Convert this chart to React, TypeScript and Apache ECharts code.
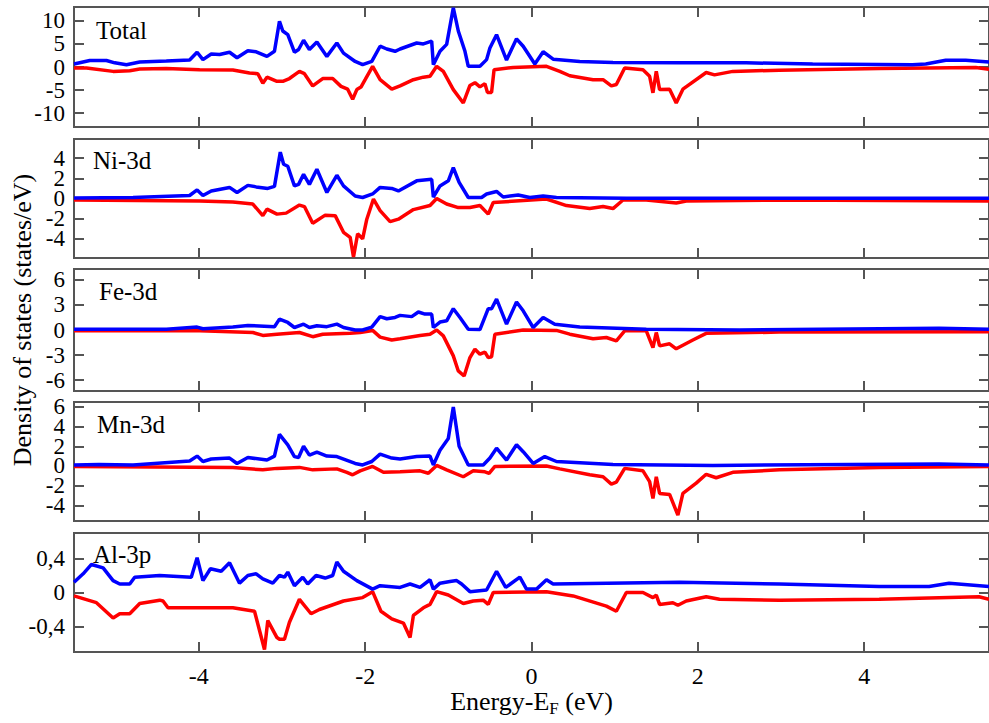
import React, { useEffect, useRef } from "react";
import * as echarts from "echarts";

// ---------- data ----------
const energyMin = -5.5;
const energyMax = 5.5;
const energyTicks = [-4, -2, 0, 2, 4];

const panelNames = ["Total", "Ni-3d", "Fe-3d", "Mn-3d", "Al-3p"];
const yRanges: [number, number][] = [[-13, 13], [-5.9, 5.9], [-7.3, 7.3], [-5.6, 6.5], [-0.7, 0.7]];
const yTicks: number[][] = [[-10, -5, 0, 5, 10], [-4, -2, 0, 2, 4], [-6, -3, 0, 3, 6], [-4, -2, 0, 2, 4, 6], [-0.4, 0, 0.4]];

const totalUp: [number, number][] = [
  [-5.5, 0.65], [-5.31, 1.4], [-5.11, 1.4], [-5.01, 0.9], [-4.87, 0.5], [-4.71, 1.1], [-4.39, 1.3], [-4.11, 1.5],
  [-4.02, 3.2], [-3.95, 1.6], [-3.85, 2.8], [-3.75, 2.7], [-3.63, 3.2], [-3.54, 2.0], [-3.41, 3.5], [-3.31, 3.3],
  [-3.18, 2.3], [-3.09, 3.4], [-3.03, 9.9], [-2.99, 7.8], [-2.93, 7.0], [-2.85, 3.2], [-2.8, 3.8], [-2.74, 5.8],
  [-2.67, 3.8], [-2.58, 5.4], [-2.46, 2.3], [-2.34, 5.2], [-2.26, 3.0], [-2.12, 1.2], [-2.03, 0.5], [-1.92, 1.2],
  [-1.82, 4.5], [-1.74, 3.9], [-1.64, 3.4], [-1.58, 3.9], [-1.38, 5.2], [-1.3, 5.0], [-1.2, 5.6], [-1.18, 0.5],
  [-1.1, 3.4], [-1.02, 4.9], [-0.94, 12.8], [-0.88, 7.8], [-0.8, 3.4], [-0.76, 0.15], [-0.62, 0.15], [-0.54, 1.6],
  [-0.5, 4.1], [-0.42, 7.0], [-0.3, 1.5], [-0.18, 6.1], [-0.1, 4.5], [0.04, 0.65], [0.14, 3.3], [0.26, 1.7],
  [0.58, 1.2], [0.98, 1.0], [1.78, 0.9], [2.58, 0.9], [3.38, 0.65], [4.58, 0.5], [4.74, 0.65], [4.98, 1.45],
  [5.22, 1.45], [5.5, 1.1]
];
const totalDn: [number, number][] = [
  [-5.5, -0.2], [-5.35, -0.2], [-5.03, -0.95], [-4.83, -0.8], [-4.71, -0.45], [-4.39, -0.35], [-3.99, -0.6],
  [-3.59, -0.65], [-3.39, -1.3], [-3.29, -1.45], [-3.23, -3.5], [-3.18, -2.2], [-3.06, -3.1], [-2.99, -3.1],
  [-2.91, -2.5], [-2.79, -0.95], [-2.73, -1.45], [-2.63, -4.1], [-2.51, -2.5], [-2.39, -2.5], [-2.29, -4.2],
  [-2.21, -4.8], [-2.15, -7.0], [-2.1, -4.9], [-2.05, -4.35], [-2.0, -2.75], [-1.91, 0.15], [-1.82, -2.75],
  [-1.68, -4.8], [-1.58, -4.1], [-1.42, -2.75], [-1.3, -2.2], [-1.22, -2.0], [-1.14, 0.15], [-1.06, -0.95],
  [-0.94, -4.9], [-0.82, -7.8], [-0.74, -4.0], [-0.68, -3.4], [-0.62, -4.3], [-0.56, -3.6], [-0.53, -5.5],
  [-0.48, -5.5], [-0.45, -0.6], [-0.22, -0.1], [0.18, 0.15], [0.34, -0.95], [0.46, -1.9], [0.74, -2.75],
  [0.86, -2.75], [0.96, -4.1], [1.02, -3.8], [1.12, -0.2], [1.34, -0.6], [1.42, -2.0], [1.46, -5.6], [1.5, -0.95],
  [1.54, -4.9], [1.66, -4.8], [1.74, -7.8], [1.82, -4.8], [2.1, -1.2], [2.2, -1.7], [2.42, -0.95], [2.98, -0.7],
  [4.18, -0.35], [5.34, -0.1], [5.5, -0.5]
];

const niUp: [number, number][] = [
  [-5.5, 0.05], [-4.79, 0.1], [-4.11, 0.3], [-4.02, 0.85], [-3.95, 0.3], [-3.85, 0.75], [-3.63, 1.1], [-3.54, 0.6],
  [-3.41, 1.3], [-3.31, 1.15], [-3.17, 1.0], [-3.09, 1.2], [-3.02, 4.6], [-2.98, 3.4], [-2.93, 3.2], [-2.85, 1.25],
  [-2.8, 1.4], [-2.74, 2.4], [-2.67, 1.4], [-2.58, 2.9], [-2.46, 0.6], [-2.34, 2.3], [-2.26, 1.25], [-2.12, 0.25],
  [-2.03, 0.1], [-1.91, 0.45], [-1.82, 1.1], [-1.68, 1.0], [-1.6, 0.75], [-1.38, 1.75], [-1.2, 1.9], [-1.18, 0.15],
  [-1.1, 1.25], [-1.0, 1.75], [-0.94, 3.05], [-0.87, 1.6], [-0.76, 0.1], [-0.6, 0.1], [-0.54, 0.45], [-0.42, 0.7],
  [-0.34, 0.15], [-0.16, 0.35], [-0.02, 0.1], [0.14, 0.25], [0.3, 0.1], [1.14, 0.02], [5.5, 0.02]
];
const niDn: [number, number][] = [
  [-5.5, -0.15], [-3.99, -0.25], [-3.59, -0.35], [-3.35, -0.55], [-3.23, -1.7], [-3.18, -1.05], [-3.06, -1.55],
  [-2.95, -1.45], [-2.79, -0.65], [-2.73, -0.8], [-2.63, -2.45], [-2.48, -1.65], [-2.36, -1.7], [-2.26, -3.35],
  [-2.18, -3.85], [-2.14, -5.8], [-2.09, -3.5], [-2.03, -4.0], [-1.98, -2.05], [-1.9, -0.05], [-1.82, -1.2],
  [-1.7, -2.3], [-1.6, -2.05], [-1.42, -1.1], [-1.22, -0.7], [-1.14, 0.0], [-1.02, -0.55], [-0.88, -0.9],
  [-0.74, -0.9], [-0.62, -0.7], [-0.52, -1.55], [-0.46, -0.4], [0.18, -0.05], [0.42, -0.7], [0.7, -1.0],
  [0.86, -0.8], [0.98, -1.0], [1.1, -0.15], [1.38, -0.15], [1.74, -0.45], [1.86, -0.25], [2.98, -0.15], [5.5, -0.25]
];

const feUp: [number, number][] = [
  [-5.5, 0.1], [-4.39, 0.1], [-4.02, 0.35], [-3.95, 0.15], [-3.59, 0.35], [-3.41, 0.55], [-3.09, 0.4], [-3.03, 1.3],
  [-2.93, 0.9], [-2.85, 0.3], [-2.74, 0.7], [-2.67, 0.3], [-2.58, 0.5], [-2.46, 0.4], [-2.34, 0.7], [-2.26, 0.3],
  [-2.12, 0.0], [-2.03, 0.0], [-1.92, 0.35], [-1.82, 1.6], [-1.74, 1.35], [-1.64, 1.5], [-1.58, 1.75], [-1.44, 1.6],
  [-1.36, 2.15], [-1.28, 1.9], [-1.2, 1.9], [-1.18, 0.3], [-1.1, 0.95], [-1.02, 1.1], [-0.94, 2.55], [-0.86, 1.5],
  [-0.76, 0.1], [-0.62, 0.05], [-0.52, 2.55], [-0.48, 2.55], [-0.42, 3.7], [-0.3, 0.7], [-0.18, 3.35], [-0.1, 2.3],
  [0.02, 0.3], [0.14, 1.5], [0.28, 0.7], [0.58, 0.35], [1.38, 0.1], [2.5, 0.0], [4.9, 0.2], [5.5, 0.1]
];
const feDn: [number, number][] = [
  [-5.5, -0.1], [-3.99, -0.1], [-3.35, -0.3], [-3.23, -0.65], [-3.06, -0.5], [-2.79, -0.3], [-2.63, -0.8],
  [-2.51, -0.5], [-2.18, -0.4], [-2.06, -0.3], [-1.91, -0.05], [-1.82, -0.85], [-1.68, -1.2], [-1.58, -1.05],
  [-1.34, -0.65], [-1.22, -0.5], [-1.14, 0.0], [-1.06, -0.7], [-0.94, -3.1], [-0.88, -4.9], [-0.81, -5.5],
  [-0.74, -3.3], [-0.68, -2.3], [-0.62, -2.9], [-0.56, -2.65], [-0.52, -3.3], [-0.48, -3.2], [-0.44, -0.5],
  [-0.1, 0.0], [0.3, -0.05], [0.46, -0.5], [0.74, -1.05], [0.9, -0.9], [1.02, -1.3], [1.12, -0.1], [1.38, -0.1],
  [1.46, -2.1], [1.5, -0.3], [1.54, -1.9], [1.66, -1.65], [1.74, -2.25], [1.94, -1.2], [2.1, -0.4], [2.98, -0.25],
  [5.5, -0.2]
];

const mnUp: [number, number][] = [
  [-5.5, 0.1], [-5.2, 0.15], [-4.79, 0.1], [-4.11, 0.5], [-4.02, 1.0], [-3.95, 0.45], [-3.85, 0.7], [-3.63, 0.8],
  [-3.54, 0.25], [-3.41, 0.85], [-3.18, 0.6], [-3.09, 1.0], [-3.03, 3.2], [-2.93, 2.15], [-2.85, 0.95],
  [-2.8, 0.85], [-2.74, 2.0], [-2.67, 1.1], [-2.58, 1.4], [-2.46, 1.0], [-2.34, 0.95], [-2.12, 0.25], [-2.03, 0.1],
  [-1.92, 0.45], [-1.82, 1.2], [-1.68, 0.8], [-1.58, 0.7], [-1.38, 0.95], [-1.22, 1.0], [-1.18, 0.1], [-1.1, 1.6],
  [-1.0, 2.8], [-0.94, 6.0], [-0.87, 2.0], [-0.76, 0.1], [-0.58, 0.1], [-0.5, 0.8], [-0.42, 1.8], [-0.3, 0.6],
  [-0.18, 2.15], [-0.1, 1.45], [0.02, 0.25], [0.16, 0.95], [0.3, 0.45], [0.98, 0.15], [2.18, 0.05], [4.9, 0.2],
  [5.5, 0.1]
];
const mnDn: [number, number][] = [
  [-5.5, -0.05], [-3.59, -0.15], [-3.23, -0.4], [-3.06, -0.25], [-2.79, -0.15], [-2.63, -0.4], [-2.34, -0.3],
  [-2.22, -0.65], [-2.15, -0.9], [-2.06, -0.5], [-1.91, -0.05], [-1.78, -0.65], [-1.58, -0.6], [-1.34, -0.5],
  [-1.24, -0.75], [-1.14, 0.05], [-1.02, -0.4], [-0.82, -1.1], [-0.7, -0.5], [-0.56, -0.6], [-0.51, -0.75],
  [-0.44, -0.05], [0.18, 0.0], [0.34, -0.3], [0.7, -0.9], [0.86, -1.1], [0.96, -1.85], [1.02, -1.65], [1.12, -0.25],
  [1.34, -0.5], [1.42, -1.6], [1.46, -3.3], [1.5, -1.1], [1.54, -2.8], [1.66, -2.9], [1.76, -5.0], [1.82, -2.8],
  [1.98, -1.75], [2.1, -0.85], [2.22, -1.2], [2.42, -0.65], [2.98, -0.4], [4.18, -0.15], [5.5, -0.05]
];

const alUp: [number, number][] = [
  [-5.5, 0.12], [-5.39, 0.22], [-5.29, 0.33], [-5.15, 0.29], [-5.03, 0.14], [-4.95, 0.1], [-4.83, 0.1],
  [-4.77, 0.18], [-4.47, 0.2], [-4.09, 0.18], [-4.02, 0.41], [-3.95, 0.14], [-3.86, 0.28], [-3.73, 0.25],
  [-3.63, 0.35], [-3.51, 0.11], [-3.41, 0.2], [-3.31, 0.22], [-3.23, 0.16], [-3.11, 0.11], [-3.03, 0.2],
  [-2.97, 0.18], [-2.93, 0.24], [-2.85, 0.08], [-2.75, 0.18], [-2.69, 0.1], [-2.59, 0.2], [-2.48, 0.17],
  [-2.39, 0.2], [-2.34, 0.36], [-2.26, 0.25], [-2.1, 0.14], [-1.91, 0.04], [-1.82, 0.08], [-1.58, 0.06],
  [-1.46, 0.1], [-1.34, 0.06], [-1.22, 0.15], [-1.18, 0.04], [-1.1, 0.11], [-0.98, 0.13], [-0.9, 0.14],
  [-0.84, 0.1], [-0.74, 0.01], [-0.54, 0.03], [-0.42, 0.25], [-0.31, 0.06], [-0.14, 0.18], [-0.06, 0.04],
  [0.06, 0.04], [0.18, 0.15], [0.26, 0.1], [1.78, 0.12], [2.98, 0.1], [4.18, 0.07], [4.78, 0.07], [5.02, 0.11],
  [5.5, 0.07]
];
const alDn: [number, number][] = [
  [-5.5, -0.04], [-5.23, -0.12], [-5.03, -0.3], [-4.95, -0.25], [-4.83, -0.25], [-4.71, -0.13], [-4.47, -0.09],
  [-4.43, -0.1], [-4.37, -0.18], [-3.59, -0.18], [-3.33, -0.22], [-3.21, -0.67], [-3.17, -0.33], [-3.06, -0.53],
  [-3.03, -0.55], [-2.97, -0.55], [-2.91, -0.35], [-2.79, -0.08], [-2.65, -0.25], [-2.55, -0.2], [-2.26, -0.1],
  [-2.03, -0.06], [-1.91, 0.01], [-1.81, -0.22], [-1.68, -0.31], [-1.54, -0.36], [-1.46, -0.53], [-1.42, -0.27],
  [-1.3, -0.18], [-1.22, -0.14], [-1.14, 0.01], [-1.0, -0.03], [-0.82, -0.13], [-0.7, -0.1], [-0.58, -0.09],
  [-0.52, -0.14], [-0.46, 0.0], [0.18, 0.01], [0.5, -0.04], [0.9, -0.16], [1.02, -0.22], [1.14, 0.0], [1.34, 0.0],
  [1.46, -0.06], [1.5, -0.03], [1.54, -0.14], [1.7, -0.12], [1.76, -0.15], [1.86, -0.1], [2.1, -0.05],
  [2.26, -0.08], [2.98, -0.09], [4.18, -0.08], [5.38, -0.05], [5.5, -0.08]
];

const spinUp = [totalUp, niUp, feUp, mnUp, alUp];
const spinDn = [totalDn, niDn, feDn, mnDn, alDn];

// ---------- layout / style ----------
const FONT = "'Liberation Serif', 'DejaVu Serif', serif";
const FRAME = "#555555";
const gridBoxes = [
  { top: 7, height: 120 },
  { top: 139, height: 119 },
  { top: 269, height: 122 },
  { top: 402, height: 119 },
  { top: 533, height: 119 },
];
const labelPos = [[96, 30], [93, 160], [99, 291], [97, 424], [93, 554]];

function fmt(v: number) {
  return String(Math.round(v * 100) / 100).replace(".", ",");
}

export default function App() {
  const ref = useRef<HTMLDivElement>(null);
  useEffect(() => {
    if (!ref.current) return;
    const chart = echarts.init(ref.current, undefined, { renderer: "svg" });
    const grid: any[] = [];
    const xAxis: any[] = [];
    const yAxis: any[] = [];
    const series: any[] = [];
    const tickStyle = { show: true, inside: true, length: 10, lineStyle: { color: FRAME, width: 2 } };
    const noLine = { show: false, onZero: false };
    gridBoxes.forEach((g, i) => {
      grid.push({ left: 74, width: 915, top: g.top, height: g.height, show: true, borderColor: FRAME, borderWidth: 2, backgroundColor: "transparent" });
      const last = i === gridBoxes.length - 1;
      xAxis.push({
        type: "value", gridIndex: i, min: energyMin, max: energyMax, position: "bottom",
        axisLine: noLine, splitLine: { show: false },
        axisTick: { ...tickStyle, customValues: energyTicks },
        axisLabel: {
          show: last, customValues: energyTicks, fontFamily: FONT, fontSize: 24, color: "#000", margin: 12,
          hideOverlap: false, showMinLabel: true, showMaxLabel: true,
        },
        ...(last ? {
          name: "Energy-E{sub|F} (eV)", nameLocation: "middle", nameGap: 33,
          nameTextStyle: { fontFamily: FONT, fontSize: 26, color: "#000", rich: { sub: { fontFamily: FONT, fontSize: 17, color: "#000", padding: [14, 0, 0, 0] } } },
        } : {}),
      });
      xAxis.push({
        type: "value", gridIndex: i, min: energyMin, max: energyMax, position: "top",
        axisLine: noLine, splitLine: { show: false },
        axisTick: { ...tickStyle, customValues: energyTicks },
        axisLabel: { show: false },
      });
      yAxis.push({
        type: "value", gridIndex: i, min: yRanges[i][0], max: yRanges[i][1], position: "left",
        axisLine: noLine, splitLine: { show: false },
        axisTick: { ...tickStyle, customValues: yTicks[i] },
        axisLabel: { show: false },
      });
      yAxis.push({
        type: "value", gridIndex: i, min: yRanges[i][0], max: yRanges[i][1], position: "right",
        axisLine: noLine, splitLine: { show: false },
        axisTick: { ...tickStyle, customValues: yTicks[i] },
        axisLabel: { show: false },
      });
      series.push({
        type: "line", xAxisIndex: 2 * i, yAxisIndex: 2 * i, data: spinUp[i], showSymbol: false, symbol: "none",
        lineStyle: { color: "#0000ff", width: 3.5 }, itemStyle: { color: "#0000ff" }, clip: true, z: 3,
      });
      series.push({
        type: "line", xAxisIndex: 2 * i, yAxisIndex: 2 * i, data: spinDn[i], showSymbol: false, symbol: "none",
        lineStyle: { color: "#ff0000", width: 3.5 }, itemStyle: { color: "#ff0000" }, clip: true, z: 2,
      });
    });
    chart.setOption({
      animation: false,
      backgroundColor: "#ffffff",
      grid, xAxis, yAxis, series,
    });

    // text: panel names, y-axis title, y tick labels (placed through the axes' own scales)
    const graphic: any[] = panelNames.map((n, i) => ({
      type: "text", x: labelPos[i][0], y: labelPos[i][1],
      style: { text: n, font: `25px ${FONT}`, fill: "#000", align: "left", verticalAlign: "middle" }, z: 10,
    }));
    graphic.push({
      type: "text", x: 22, y: 320, rotation: Math.PI / 2,
      style: { text: "Density of states (states/eV)", font: `26px ${FONT}`, fill: "#000", align: "center", verticalAlign: "middle" },
    });
    yTicks.forEach((ticks, i) => {
      ticks.forEach((v) => {
        const py = chart.convertToPixel({ yAxisIndex: 2 * i } as any, v) as unknown as number;
        const px = chart.convertToPixel({ xAxisIndex: 2 * i } as any, energyMin) as unknown as number;
        graphic.push({
          type: "text", x: px - 9, y: py,
          style: { text: fmt(v), font: `23px ${FONT}`, lineHeight: 17, fill: "#000", align: "right", verticalAlign: "middle" },
        });
      });
    });
    chart.setOption({ graphic });
    return () => chart.dispose();
  }, []);
  return <div ref={ref} style={{ position: "fixed", left: 0, top: 0, width: 989, height: 723 }} />;
}
